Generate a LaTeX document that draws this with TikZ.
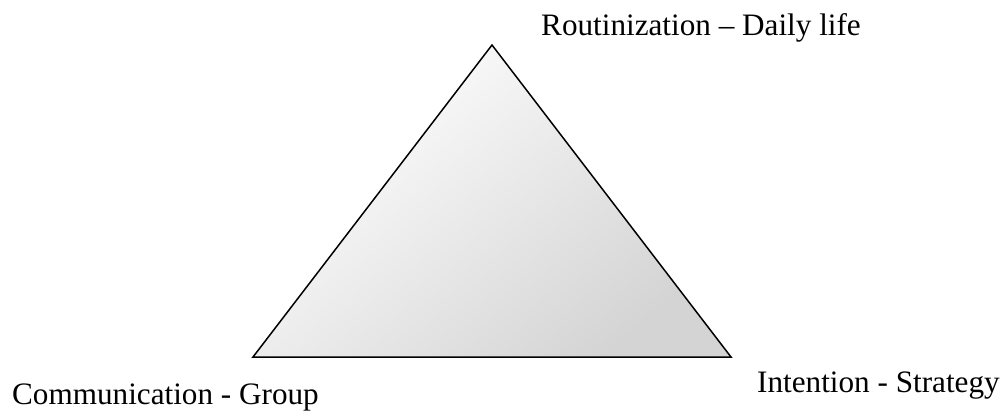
\documentclass[tikz,border=0pt]{standalone}
\usepackage{fontspec}
\setmainfont{Liberation Serif}
\begin{document}
\begin{tikzpicture}[x=1bp,y=-1bp,
  lbl/.style={anchor=base west,inner sep=0pt,font=\fontsize{31.3}{36}\selectfont}]
\useasboundingbox (0,0) rectangle (1005,412);
\coordinate (top) at (492,45);
\coordinate (bl) at (253,357);
\coordinate (br) at (731,357);
\shade[top color=white, bottom color=black!17, shading angle=40] (top) -- (bl) -- (br) -- cycle;
\draw[line width=1.5bp, line join=miter] (top) -- (bl) -- (br) -- cycle;
\node[lbl] (r) at (541,35) {Routinization – Daily life};
\node[lbl] (c) at (12,404) {Communication - Group};
\node[lbl] (i) at (757,392) {Intention - Strategy};
\end{tikzpicture}
\end{document}
